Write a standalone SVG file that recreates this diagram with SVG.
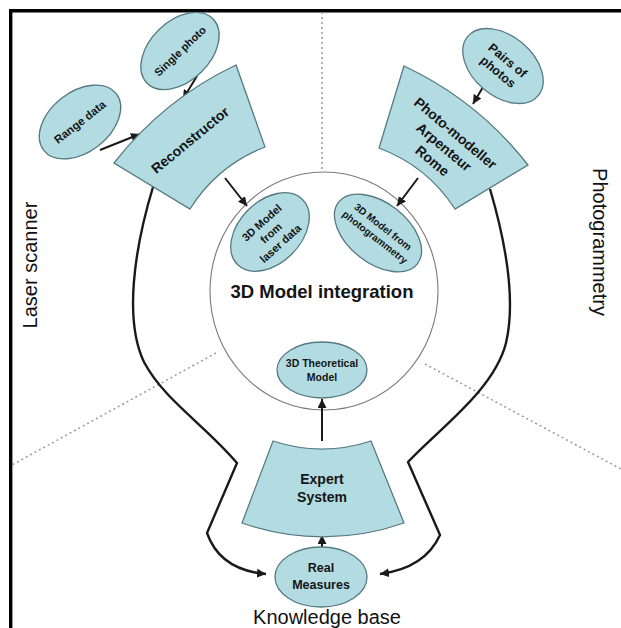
<svg xmlns="http://www.w3.org/2000/svg" width="621" height="628" viewBox="0 0 621 628">
<defs>
<style>
.node{fill:#b3dce2;stroke:#557a80;stroke-width:1.3}
.t{font-family:"Liberation Sans",Arial,sans-serif;font-weight:bold;fill:#151515;text-anchor:middle}
.big{font-family:"Liberation Sans",Arial,sans-serif;fill:#111;text-anchor:middle;font-size:20px}
.dot{stroke:#9a9a9a;stroke-width:1.5;stroke-dasharray:2 3;fill:none}
.c{stroke:#1a1a1a;stroke-width:2.4;fill:none}
.a{stroke:#1a1a1a;stroke-width:2;fill:none;marker-end:url(#ah)}
</style>
<marker id="ah" markerUnits="userSpaceOnUse" markerWidth="10" markerHeight="9" refX="9" refY="4.5" orient="auto">
<path d="M0,0 L9,4.5 L0,9 Z" fill="#1a1a1a"/>
</marker>
</defs>
<rect width="621" height="628" fill="#fff"/>
<path d="M10.7,628 V10.7 H621" fill="none" stroke="#000" stroke-width="3.4"/>

<g id="sectors-lines">
<path class="dot" d="M322,12 V172"/>
<path class="dot" d="M216,353 L12,465"/>
<path class="dot" d="M425,364 L621,469"/>
</g>

<g id="integration">
<ellipse cx="324" cy="291" rx="114" ry="119" fill="none" stroke="#7a7a7a" stroke-width="1.1"/>
<text class="t" x="322" y="298" font-size="18.5">3D Model integration</text>
</g>

<g id="connectors">
<path class="a" d="M197,76 L183,99"/>
<path class="a" d="M100,150 L140,134"/>
<path class="a" d="M225,178 L247,206"/>
<path class="a" d="M483,87 L473,104"/>
<path class="a" d="M418,178 L397,206"/>
<path class="a" d="M322,441 L322,399"/>
<path class="a" d="M322,548 L322,535"/>
<path class="c" d="M153,187 C134,250 124,320 144,362 C164,400 205,425 237,463 L207,533 Q220,570 266,574" marker-end="url(#ah)"/>
<path class="c" d="M490,189 C505,240 516,300 506,343 C494,390 440,428 408,462 L440,535 Q425,568 380,574" marker-end="url(#ah)"/>
</g>

<g id="single-photo">
<ellipse class="node" cx="0" cy="0" rx="46" ry="30" transform="translate(180,51) rotate(-44)"/>
<text class="t" font-size="11" transform="translate(180,51) rotate(-44)" x="0" y="4">Single photo</text>
</g>

<g id="range-data">
<ellipse class="node" cx="0" cy="0" rx="46" ry="30" transform="translate(80,122) rotate(-38)"/>
<text class="t" font-size="11.5" transform="translate(80,122) rotate(-38)" x="0" y="4">Range data</text>
</g>

<g id="reconstructor">
<path class="node" d="M114,163 A340,340 0 0 1 236,65 L265,147 A156,156 0 0 0 190,209 Z"/>
<text class="t" font-size="14" transform="translate(190,140) rotate(-39.5)" x="0" y="5">Reconstructor</text>
</g>

<g id="pairs-of-photos">
<ellipse class="node" cx="0" cy="0" rx="46" ry="30" transform="translate(503,66) rotate(40)"/>
<text class="t" font-size="12.5" transform="translate(503,66) rotate(40)"><tspan x="0" y="-3">Pairs of</tspan><tspan x="0" y="12">photos</tspan></text>
</g>

<g id="photo-modeller">
<path class="node" d="M404,66 A340,340 0 0 1 528,165 L455,209 A156,156 0 0 0 379,148 Z"/>
<text class="t" font-size="14" transform="translate(444,147) rotate(40)"><tspan x="0" y="-13">Photo-modeller</tspan><tspan x="0" y="5">Arpenteur</tspan><tspan x="0" y="23">Rome</tspan></text>
</g>

<g id="model-laser">
<ellipse class="node" cx="0" cy="0" rx="46" ry="31" transform="translate(270,232) rotate(-45)"/>
<text class="t" font-size="11" transform="translate(271,233) rotate(-42)"><tspan x="0" y="-10">3D Model</tspan><tspan x="0" y="4">from</tspan><tspan x="0" y="18">laser data</tspan></text>
</g>

<g id="model-photogrammetry">
<ellipse class="node" cx="0" cy="0" rx="50" ry="30" transform="translate(378,233) rotate(38)"/>
<text class="t" font-size="10" transform="translate(379,232) rotate(38)"><tspan x="0" y="-3">3D Model from</tspan><tspan x="0" y="10">photogrammetry</tspan></text>
</g>

<g id="theoretical-model">
<ellipse class="node" cx="322" cy="370" rx="45" ry="28"/>
<text class="t" font-size="10.5"><tspan x="322" y="367">3D Theoretical</tspan><tspan x="322" y="381">Model</tspan></text>
</g>

<g id="expert-system">
<path class="node" d="M242,523 A245,245 0 0 0 404,523 L371,441 A157,157 0 0 1 273,441 Z"/>
<text class="t" font-size="14"><tspan x="322" y="484">Expert</tspan><tspan x="322" y="502">System</tspan></text>
</g>

<g id="real-measures">
<ellipse class="node" cx="321" cy="577" rx="46" ry="30"/>
<text class="t" font-size="12.5"><tspan x="321" y="572">Real</tspan><tspan x="321" y="589">Measures</tspan></text>
</g>

<g id="labels">
<text class="big" transform="translate(37,265) rotate(-90)">Laser scanner</text>
<text class="big" transform="translate(593,242) rotate(90)">Photogrammetry</text>
<text class="big" x="327" y="624">Knowledge base</text>
</g>
</svg>
